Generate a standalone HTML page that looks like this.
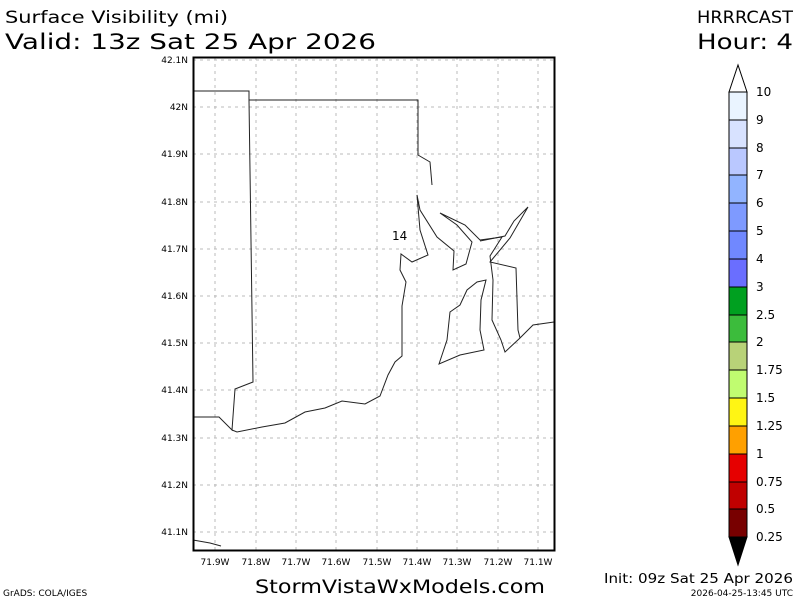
<!DOCTYPE html>
<html><head><style>
body{margin:0;background:#fff;}
svg text{font-family:"DejaVu Sans","Liberation Sans",sans-serif;}
</style></head><body>
<svg width="800" height="600" xmlns="http://www.w3.org/2000/svg">
<rect width="800" height="600" fill="#fff"/>
<text x="5" y="23" font-size="17" fill="#000" textLength="223" lengthAdjust="spacingAndGlyphs">Surface Visibility (mi)</text>
<text x="5" y="49" font-size="21" fill="#000" textLength="371" lengthAdjust="spacingAndGlyphs">Valid: 13z Sat 25 Apr 2026</text>
<text x="697" y="23" font-size="17" textLength="96" lengthAdjust="spacingAndGlyphs">HRRRCAST</text>
<text x="697" y="49" font-size="21" textLength="96" lengthAdjust="spacingAndGlyphs">Hour: 4</text>
<g stroke="#bbb" stroke-width="1" stroke-dasharray="3,4">
<line x1="215" y1="57" x2="215" y2="550"/><line x1="256" y1="57" x2="256" y2="550"/><line x1="296" y1="57" x2="296" y2="550"/><line x1="336" y1="57" x2="336" y2="550"/><line x1="377" y1="57" x2="377" y2="550"/><line x1="417" y1="57" x2="417" y2="550"/><line x1="457" y1="57" x2="457" y2="550"/><line x1="498" y1="57" x2="498" y2="550"/><line x1="538" y1="57" x2="538" y2="550"/>
<line x1="193" y1="60" x2="554" y2="60"/><line x1="193" y1="107" x2="554" y2="107"/><line x1="193" y1="154" x2="554" y2="154"/><line x1="193" y1="202" x2="554" y2="202"/><line x1="193" y1="249" x2="554" y2="249"/><line x1="193" y1="296" x2="554" y2="296"/><line x1="193" y1="343" x2="554" y2="343"/><line x1="193" y1="390" x2="554" y2="390"/><line x1="193" y1="438" x2="554" y2="438"/><line x1="193" y1="485" x2="554" y2="485"/><line x1="193" y1="532" x2="554" y2="532"/>
</g>
<g fill="none" stroke="#222" stroke-width="1">
<polyline points="193,91 249,91 249,100 418,100 418,155 430,162 432,185"/>
<polyline points="249,100 253,382 235,389 232,430 219,417 193,417"/>
<polyline points="232,430 237,432 262,427 285,423 305,412 325,408 342,401 365,404 380,396 388,375 395,362 402,356 402,306 406,282 400,270 401,254 412,262 428,255 420,230 417,195 420,210 437,237 454,251 453,270 466,264 472,242 457,225 440,213 465,225 480,240 502,237 490,256 493,280 492,320 501,340 505,352 520,338 533,325 554,322"/>
<polyline points="480,241 505,236 514,221 528,207 510,238 490,262 516,268 518,330 520,338"/>
<polyline points="193,540 210,543 221,546"/>
<polygon points="439,364 447,340 450,312 460,305 467,290 477,282 486,280 481,300 480,330 484,350 460,355"/>
</g>
<text x="392" y="240" font-size="12">14</text>
<rect x="193.5" y="57.5" width="361" height="493" fill="none" stroke="#000" stroke-width="2"/>
<g font-size="9" text-anchor="end" fill="#000">
<text x="188" y="63">42.1N</text><text x="188" y="110">42N</text><text x="188" y="157">41.9N</text><text x="188" y="205">41.8N</text><text x="188" y="252">41.7N</text><text x="188" y="299">41.6N</text><text x="188" y="346">41.5N</text><text x="188" y="393">41.4N</text><text x="188" y="441">41.3N</text><text x="188" y="488">41.2N</text><text x="188" y="535">41.1N</text>
</g>
<g font-size="9" text-anchor="middle">
<text x="215" y="565">71.9W</text><text x="256" y="565">71.8W</text><text x="296" y="565">71.7W</text><text x="336" y="565">71.6W</text><text x="377" y="565">71.5W</text><text x="417" y="565">71.4W</text><text x="457" y="565">71.3W</text><text x="498" y="565">71.2W</text><text x="538" y="565">71.1W</text>
</g>
<g stroke="#000" stroke-width="1">
<polygon points="729,92 738,65 747,92" fill="#fff"/>
<rect x="729" y="92" width="18" height="28" fill="#eaf4ff"/>
<rect x="729" y="120" width="18" height="28" fill="#d8e2ff"/>
<rect x="729" y="148" width="18" height="27" fill="#bac8ff"/>
<rect x="729" y="175" width="18" height="28" fill="#92b4ff"/>
<rect x="729" y="203" width="18" height="28" fill="#7e9aff"/>
<rect x="729" y="231" width="18" height="28" fill="#7088ff"/>
<rect x="729" y="259" width="18" height="28" fill="#6a6eff"/>
<rect x="729" y="287" width="18" height="28" fill="#00a020"/>
<rect x="729" y="315" width="18" height="27" fill="#3cbc3c"/>
<rect x="729" y="342" width="18" height="28" fill="#b8d278"/>
<rect x="729" y="370" width="18" height="28" fill="#c0fc70"/>
<rect x="729" y="398" width="18" height="28" fill="#fff514"/>
<rect x="729" y="426" width="18" height="28" fill="#ffa000"/>
<rect x="729" y="454" width="18" height="28" fill="#e60000"/>
<rect x="729" y="482" width="18" height="27" fill="#c00000"/>
<rect x="729" y="509" width="18" height="28" fill="#780000"/>
<polygon points="729,537 738,565 747,537" fill="#000"/>
</g>
<g font-size="12" fill="#000">
<text x="756" y="96">10</text><text x="756" y="124">9</text><text x="756" y="152">8</text><text x="756" y="179">7</text><text x="756" y="207">6</text><text x="756" y="235">5</text><text x="756" y="263">4</text><text x="756" y="291">3</text><text x="756" y="319">2.5</text><text x="756" y="346">2</text><text x="756" y="374">1.75</text><text x="756" y="402">1.5</text><text x="756" y="430">1.25</text><text x="756" y="458">1</text><text x="756" y="486">0.75</text><text x="756" y="513">0.5</text><text x="756" y="541">0.25</text>
</g>
<text x="3" y="596" font-size="9">GrADS: COLA/IGES</text>
<text x="255" y="593" font-size="19" textLength="290" lengthAdjust="spacingAndGlyphs">StormVistaWxModels.com</text>
<text x="604" y="583" font-size="13" textLength="189" lengthAdjust="spacingAndGlyphs">Init: 09z Sat 25 Apr 2026</text>
<text x="793" y="596" font-size="9" text-anchor="end">2026-04-25-13:45 UTC</text>
</svg>
</body></html>
